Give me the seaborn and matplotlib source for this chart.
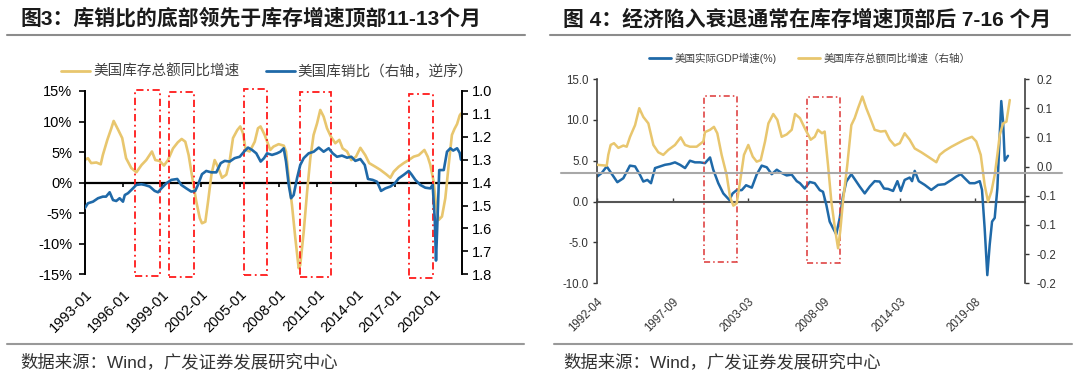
import numpy as np
import pandas as pd
import matplotlib
matplotlib.use("Agg")
import matplotlib.pyplot as plt
import seaborn as sns
from matplotlib.patches import Rectangle
from matplotlib.lines import Line2D

sns.set_style("white")
plt.rcParams["font.family"] = ["Liberation Sans", "Noto Sans CJK SC"]
plt.rcParams["axes.unicode_minus"] = False

# ---------------- texts ----------------
TITLE_L = "图3：库销比的底部领先于库存增速顶部11-13个月"
TITLE_R = "图 4：经济陷入衰退通常在库存增速顶部后 7-16 个月"
SOURCE = "数据来源：Wind，广发证券发展研究中心"
LEG_L = ["美国库存总额同比增速", "美国库销比（右轴，逆序）"]
LEG_R = ["美国实际GDP增速(%)", "美国库存总额同比增速（右轴）"]

# ---------------- left panel data ----------------
# 美国库存总额同比增速 (%), decimal year
L_inv_t = [1993.00, 1993.25, 1993.50, 1993.90, 1994.24, 1994.40, 1994.75, 1995.06, 1995.24, 1995.60,
           1995.90, 1996.20, 1996.60, 1997.00, 1997.40, 1997.76, 1998.20, 1998.46, 1998.80, 1999.13,
           1999.44, 1999.83, 2000.20, 2000.50, 2000.78, 2001.04, 2001.37, 2001.63, 2001.90, 2002.07,
           2002.33, 2002.54, 2002.80, 2003.05, 2003.30, 2003.62, 2003.95, 2004.20, 2004.47, 2004.80,
           2005.03, 2005.24, 2005.45, 2005.76, 2006.15, 2006.40, 2006.60, 2006.92, 2007.35, 2007.60,
           2008.00, 2008.40, 2008.57, 2008.78, 2009.03, 2009.29, 2009.55, 2009.67, 2009.94, 2010.20,
           2010.45, 2010.70, 2010.97, 2011.22, 2011.48, 2011.74, 2012.05, 2012.38, 2012.69, 2012.95,
           2013.29, 2013.62, 2013.98, 2014.32, 2014.70, 2015.00, 2015.48, 2015.86, 2016.30, 2016.64,
           2016.90, 2017.28, 2017.67, 2018.06, 2018.44, 2018.83, 2019.27, 2019.53, 2019.73, 2019.99,
           2020.17, 2020.38, 2020.63, 2020.89, 2021.15, 2021.40, 2021.60, 2021.80, 2022.00, 2022.10]
L_inv_v = [3.7, 4.0, 3.2, 3.3, 3.0, 4.5, 7.0, 8.9, 10.1, 8.6,
           7.3, 4.0, 2.4, 1.7, 2.9, 3.7, 5.1, 3.7, 3.55, 2.8,
           3.7, 5.6, 6.6, 7.15, 6.7, 4.5, 0.2, -3.1, -5.8, -6.65,
           -6.4, -3.1, 1.3, 3.7, 2.6, 0.8, 1.3, 3.4, 7.3, 8.6,
           9.2, 8.1, 5.35, 5.1, 6.7, 8.9, 9.2, 7.8, 5.35, 5.9,
           6.3, 6.05, 5.1, 0.7, -3.65, -9.1, -14.0, -13.5, -8.0, -1.5,
           4.0, 7.8, 9.7, 11.9, 10.8, 8.9, 7.5, 6.45, 7.0, 5.6,
           5.1, 3.7, 4.25, 5.7, 4.5, 3.2, 2.6, 2.1, 1.4, 0.8,
           1.8, 2.6, 3.2, 3.7, 4.25, 4.5, 5.35, 4.25, 2.9, 0.15,
           -3.65, -6.1, -5.55, -2.55, 2.9, 7.8, 8.8, 9.6, 11.0, 11.3]

# 美国库销比 (right axis, inverted)
L_isr_t = [1993.00, 1993.25, 1993.64, 1994.03, 1994.40, 1994.65, 1994.93, 1995.19, 1995.44, 1995.70,
           1995.96, 1996.10, 1996.35, 1996.73, 1996.99, 1997.38, 1997.64, 1998.03, 1998.41, 1998.67,
           1998.93, 1999.31, 1999.70, 2000.16, 2000.47, 2000.86, 2001.24, 2001.55, 2001.76, 2002.07,
           2002.40, 2002.79, 2003.18, 2003.52, 2003.83, 2004.21, 2004.60, 2004.99, 2005.32, 2005.63,
           2005.94, 2006.27, 2006.61, 2006.87, 2007.10, 2007.49, 2007.87, 2008.13, 2008.39, 2008.57,
           2008.78, 2008.96, 2009.16, 2009.42, 2009.67, 2009.94, 2010.32, 2010.71, 2011.10, 2011.48,
           2011.87, 2012.18, 2012.51, 2012.90, 2013.29, 2013.62, 2013.93, 2014.32, 2014.66, 2014.91,
           2015.27, 2015.61, 2015.92, 2016.25, 2016.64, 2016.98, 2017.29, 2017.67, 2018.06, 2018.26,
           2018.57, 2018.96, 2019.34, 2019.73, 2019.91, 2020.07, 2020.17, 2020.27, 2020.42, 2020.77,
           2021.02, 2021.28, 2021.50, 2021.80, 2022.00, 2022.10]
L_isr_v = [1.512, 1.490, 1.483, 1.468, 1.461, 1.461, 1.442, 1.476, 1.480, 1.468,
           1.483, 1.454, 1.446, 1.425, 1.410, 1.407, 1.410, 1.417, 1.436, 1.442,
           1.425, 1.403, 1.388, 1.384, 1.410, 1.425, 1.439, 1.436, 1.410, 1.363,
           1.349, 1.355, 1.355, 1.315, 1.305, 1.308, 1.293, 1.287, 1.265, 1.247,
           1.257, 1.272, 1.308, 1.293, 1.272, 1.279, 1.272, 1.265, 1.250, 1.308,
           1.410, 1.468, 1.454, 1.381, 1.323, 1.293, 1.272, 1.265, 1.247, 1.265,
           1.250, 1.272, 1.287, 1.282, 1.291, 1.287, 1.305, 1.297, 1.323, 1.384,
           1.388, 1.396, 1.436, 1.425, 1.417, 1.403, 1.381, 1.366, 1.349, 1.363,
           1.388, 1.410, 1.422, 1.425, 1.410, 1.555, 1.740, 1.585, 1.345, 1.345,
           1.265, 1.250, 1.260, 1.250, 1.270, 1.300]

L_xticks = [1993, 1996, 1999, 2002, 2005, 2008, 2011, 2014, 2017, 2020]
L_xlabels = ["1993-01", "1996-01", "1999-01", "2002-01", "2005-01",
             "2008-01", "2011-01", "2014-01", "2017-01", "2020-01"]
L_yticks = [-15, -10, -5, 0, 5, 10, 15]
L_y2ticks = [1.0, 1.1, 1.2, 1.3, 1.4, 1.5, 1.6, 1.7, 1.8]
# red dash-dot boxes: start, end (year), top, bottom (%)
L_box_start = [1996.91, 1999.52, 2005.30, 2009.63, 2018.06]
L_box_end = [1998.80, 2001.43, 2007.10, 2012.05, 2019.94]
L_box_top = [15.1, 14.9, 15.3, 14.8, 14.5]
L_box_bot = [-15.3, -15.5, -15.1, -15.5, -15.6]

# ---------------- right panel data ----------------
R_gdp_t = [1992.25, 1992.58, 1992.94, 1993.70, 1994.13, 1994.60, 1994.97, 1995.32, 1995.56, 1995.85,
           1996.11, 1996.40, 1996.76, 1997.11, 1997.47, 1997.83, 1998.19, 1998.55, 1998.90, 1999.26,
           1999.62, 1999.98, 2000.34, 2000.57, 2000.93, 2001.29, 2001.72, 2001.96, 2002.25, 2002.61,
           2002.92, 2003.33, 2003.68, 2004.04, 2004.40, 2004.76, 2005.12, 2005.47, 2005.83, 2006.19,
           2006.55, 2006.78, 2007.12, 2007.48, 2007.84, 2008.20, 2008.43, 2008.67, 2008.91, 2009.15,
           2009.38, 2009.63, 2009.86, 2010.10, 2010.46, 2010.74, 2011.06, 2011.42, 2011.78, 2012.13,
           2012.49, 2012.80, 2013.09, 2013.45, 2013.76, 2014.00, 2014.28, 2014.64, 2014.81, 2015.00,
           2015.29, 2015.72, 2016.19, 2016.67, 2017.15, 2017.63, 2017.98, 2018.30, 2018.58, 2018.94,
           2019.30, 2019.66, 2019.82, 2020.01, 2020.20, 2020.37, 2020.54, 2020.73, 2020.92, 2021.09,
           2021.20, 2021.33, 2021.45, 2021.68]
R_gdp_v = [3.06, 3.5, 4.3, 2.37, 2.86, 4.4, 4.3, 3.27, 2.45, 2.65,
           2.25, 4.1, 4.3, 4.5, 4.6, 4.8, 4.5, 4.1, 5.0, 4.8,
           4.8, 4.7, 5.4, 3.9, 2.25, 1.0, 0.2, 1.0, 1.4, 1.4,
           2.0, 1.7, 3.3, 4.4, 4.2, 3.35, 3.9, 3.5, 3.2, 3.3,
           2.5, 2.25, 1.6, 2.4, 2.25, 1.4, 1.2, -0.4, -2.45, -3.26,
           -4.0, -2.0, 0.6, 2.45, 3.35, 2.65, 1.84, 1.0, 1.84, 2.5,
           2.45, 1.6, 1.55, 1.3, 2.5, 1.3, 2.65, 2.94, 2.5, 3.76,
           2.5, 2.04, 1.43, 2.04, 2.13, 2.65, 3.06, 3.35, 2.86, 2.25,
           2.25, 2.5, 1.43, -3.26, -9.0, -5.3, -2.45, -2.0, 1.6, 8.2,
           12.3, 9.8, 5.0, 5.6]

R_inv_t = [1992.25, 1992.94, 1993.05, 1993.22, 1993.46, 1993.77, 1994.13, 1994.37, 1994.61, 1994.97,
           1995.27, 1995.56, 1995.92, 1996.28, 1996.63, 1996.99, 1997.35, 1997.83, 1998.24, 1998.55,
           1998.90, 1999.38, 1999.86, 1999.98, 2000.34, 2000.62, 2000.86, 2001.17, 2001.53, 2001.77,
           2002.01, 2002.25, 2002.49, 2002.77, 2003.08, 2003.40, 2003.68, 2003.97, 2004.28, 2004.52,
           2004.87, 2005.16, 2005.47, 2005.83, 2006.19, 2006.43, 2006.78, 2007.12, 2007.55, 2007.84,
           2008.07, 2008.36, 2008.55, 2008.79, 2009.03, 2009.31, 2009.51, 2009.67, 2009.86, 2010.17,
           2010.46, 2010.70, 2010.94, 2011.25, 2011.53, 2011.78, 2012.13, 2012.56, 2012.90, 2013.21,
           2013.57, 2013.93, 2014.28, 2014.64, 2015.00, 2015.47, 2015.95, 2016.55, 2016.79, 2017.15,
           2017.63, 2018.10, 2018.58, 2019.10, 2019.41, 2019.73, 2020.01, 2020.25, 2020.49, 2020.73,
           2020.92, 2021.09, 2021.33, 2021.57, 2021.81]
R_inv_v = [0.003, 0.0015, 0.02, 0.037, 0.04, 0.032, 0.036, 0.034, 0.051, 0.071,
           0.10, 0.085, 0.074, 0.037, 0.0245, 0.02, 0.0285, 0.037, 0.05, 0.037,
           0.034, 0.034, 0.043, 0.059, 0.063, 0.068, 0.057, 0.02, -0.0144, -0.052,
           -0.067, -0.063, -0.026, 0.02, 0.037, 0.017, 0.0084, 0.011, 0.043, 0.074,
           0.09, 0.08, 0.051, 0.055, 0.063, 0.09, 0.083, 0.066, 0.046, 0.051,
           0.063, 0.057, 0.06, 0.0027, -0.06, -0.11, -0.14, -0.11, -0.06, 0.0027,
           0.071, 0.083, 0.10, 0.12, 0.10, 0.085, 0.063, 0.06, 0.061, 0.046,
           0.036, 0.04, 0.057, 0.046, 0.031, 0.0245, 0.017, 0.0074, 0.02, 0.027,
           0.034, 0.04, 0.046, 0.051, 0.043, 0.02, -0.0315, -0.06, -0.043, -0.0144,
           0.02, 0.054, 0.074, 0.077, 0.114]

R_xticks = [1992.25, 1997.67, 2003.08, 2008.50, 2013.92, 2019.33]
R_xlabels = ["1992-04", "1997-09", "2003-03", "2008-09", "2014-03", "2019-08"]
R_yticks = [-10, -5, 0, 5, 10, 15]
R_y2ticks = [-0.2, -0.15, -0.1, -0.05, 0.0, 0.05, 0.1, 0.15]
R_y2labels = ["-0.2", "-0.2", "-0.1", "-0.1", "0.0", "0.1", "0.1", "0.2"]
R_box_start = [1999.91, 2007.29]
R_box_end = [2002.25, 2009.63]
R_box_top = [12.97, 12.85]
R_box_bot = [-7.34, -7.54]

# ---------------- styling ----------------
YELLOW = "#E8C66E"
BLUE = "#1F69A8"
RED_L = "#FF1A1A"
RED_R = "#DD3535"

W, H = 1080, 378


def fx(px):
    return px / W


def fy(py):
    return 1 - py / H


fig = plt.figure(figsize=(10.8, 3.78), dpi=100)
fig.patch.set_facecolor("white")

# ================= LEFT PANEL =================
axL = fig.add_axes([fx(84.7), fy(274.3), (462 - 84.7) / W, (274.3 - 91) / H])
axL2 = axL.twinx()

df_li = pd.DataFrame({"t": L_inv_t, "v": L_inv_v})
df_lr = pd.DataFrame({"t": L_isr_t, "v": L_isr_v})
sns.lineplot(data=df_li, x="t", y="v", ax=axL, color=YELLOW, lw=1.9,
             estimator=None, sort=False, legend=False)
sns.lineplot(data=df_lr, x="t", y="v", ax=axL2, color=BLUE, lw=1.9,
             estimator=None, sort=False, legend=False)

axL.set_xlim(1993.0, 2022.18)
axL.set_ylim(-15, 15)
axL2.set_ylim(1.8, 1.0)
for a in (axL, axL2):
    a.set_xlabel("")
    a.set_ylabel("")
    a.set_facecolor("none")
    for s in a.spines.values():
        s.set_visible(False)
axL.spines["left"].set_visible(True)
axL.spines["left"].set_color("black")
axL.spines["left"].set_linewidth(1.4)
axL2.spines["right"].set_visible(True)
axL2.spines["right"].set_color("black")
axL2.spines["right"].set_linewidth(1.4)

axL.set_yticks(L_yticks, [f"{v}%" for v in L_yticks])
axL.tick_params(axis="y", direction="out", length=4, width=1.2, colors="black",
                labelsize=10.5, pad=5, left=True)
axL2.set_yticks(L_y2ticks, [f"{v:.1f}" for v in L_y2ticks])
axL2.tick_params(axis="y", direction="out", length=4, width=1.2, colors="black",
                 labelsize=10.5, pad=3, right=True)
axL.set_xticks(L_xticks, L_xlabels, rotation=45, ha="right", va="top",
               rotation_mode="anchor")
axL.tick_params(axis="x", length=0, pad=9, labelsize=10.5, colors="black", bottom=True)
axL2.tick_params(axis="x", length=0, labelbottom=False)

secL = axL.secondary_xaxis(0.5)
secL.set_xticks(L_xticks)
secL.tick_params(axis="x", direction="in", length=3, width=1.2, color="black",
                 labeltop=False, labelbottom=False)
for s in secL.spines.values():
    s.set_color("black")
    s.set_linewidth(1.6)

for x0, x1, top, bot in zip(L_box_start, L_box_end, L_box_top, L_box_bot):
    axL.add_patch(Rectangle((x0, bot), x1 - x0, top - bot, fill=False,
                            edgecolor=RED_L, lw=1.3, ls=(0, (4, 2, 1, 2)),
                            clip_on=False, zorder=5))

fig.legend([Line2D([], [], color=YELLOW, lw=2), Line2D([], [], color=BLUE, lw=2)],
           LEG_L, loc="center", bbox_to_anchor=(fx(267), fy(71.6)), ncol=2,
           frameon=False, fontsize=10.5, handlelength=2.0, handletextpad=0.2,
           columnspacing=1.8, labelcolor="#404040")

# ================= RIGHT PANEL =================
axR = fig.add_axes([fx(597.1), fy(283.3), (1025 - 597.1) / W, (283.3 - 79) / H])
axR2 = axR.twinx()

df_rg = pd.DataFrame({"t": R_gdp_t, "v": R_gdp_v})
df_ri = pd.DataFrame({"t": R_inv_t, "v": R_inv_v})
sns.lineplot(data=df_rg, x="t", y="v", ax=axR, color=BLUE, lw=1.8,
             estimator=None, sort=False, legend=False)
sns.lineplot(data=df_ri, x="t", y="v", ax=axR2, color=YELLOW, lw=1.8,
             estimator=None, sort=False, legend=False)

axR.set_xlim(1992.25, 2022.9)
axR.set_ylim(-10, 15)
axR2.set_ylim(-0.2, 0.15)
for a in (axR, axR2):
    a.set_xlabel("")
    a.set_ylabel("")
    a.set_facecolor("none")
    for s in a.spines.values():
        s.set_visible(False)
axR.spines["left"].set_visible(True)
axR.spines["left"].set_color("#404040")
axR.spines["left"].set_linewidth(1.2)
axR2.spines["right"].set_visible(True)
axR2.spines["right"].set_color("#404040")
axR2.spines["right"].set_linewidth(1.2)

axR.set_yticks(R_yticks, [f"{v:.1f}" for v in R_yticks])
axR.tick_params(axis="y", direction="out", length=3, width=1.0, colors="#333333",
                labelsize=8.3, pad=3, left=True)
axR2.set_yticks(R_y2ticks, R_y2labels)
axR2.tick_params(axis="y", direction="out", length=3, width=1.0, colors="#333333",
                 labelsize=8.3, pad=5, right=True)
axR.set_xticks(R_xticks, R_xlabels, rotation=45, ha="right", va="top",
               rotation_mode="anchor")
axR.tick_params(axis="x", length=0, pad=9, labelsize=8.3, colors="#333333", bottom=True)
axR2.tick_params(axis="x", length=0, labelbottom=False)

secR = axR.secondary_xaxis(0.4)
secR.set_xticks(R_xticks)
secR.tick_params(axis="x", direction="in", length=3, width=1.0, color="#404040",
                 labeltop=False, labelbottom=False)
for s in secR.spines.values():
    s.set_color("#555555")
    s.set_linewidth(1.5)

for x0, x1, top, bot in zip(R_box_start, R_box_end, R_box_top, R_box_bot):
    axR.add_patch(Rectangle((x0, bot), x1 - x0, top - bot, fill=False,
                            edgecolor=RED_R, lw=1.1, ls=(0, (4, 2, 1, 2)),
                            clip_on=False, zorder=5))

fig.legend([Line2D([], [], color=BLUE, lw=2), Line2D([], [], color=YELLOW, lw=2)],
           LEG_R, loc="center", bbox_to_anchor=(fx(810), fy(58)), ncol=2,
           frameon=False, fontsize=7.6, handlelength=2.1, handletextpad=0.35,
           columnspacing=2.0, labelcolor="#404040")

# stray gray horizontal rule across right chart
fig.add_artist(Line2D([fx(561), fx(1062)], [fy(172.7), fy(172.7)],
                      color="#a8a8a8", lw=1.5))

# ================= titles & footers =================
fig.text(fx(20), fy(18), TITLE_L, fontsize=15, fontweight="bold",
         ha="left", va="center", color="#1a1a1a")
fig.text(fx(563), fy(19), TITLE_R, fontsize=15, fontweight="bold",
         ha="left", va="center", color="#1a1a1a")
fig.add_artist(Line2D([fx(7), fx(525)], [fy(34.5), fy(34.5)], color="#8c8c8c", lw=1.5))
fig.add_artist(Line2D([fx(550), fx(1070)], [fy(34.5), fy(34.5)], color="#8c8c8c", lw=1.5))

fig.add_artist(Line2D([fx(7), fx(524)], [fy(344), fy(344)], color="#999999", lw=1.5))
fig.add_artist(Line2D([fx(554), fx(1072)], [fy(344), fy(344)], color="#999999", lw=1.5))
fig.text(fx(20), fy(361.7), SOURCE, fontsize=12.5, ha="left", va="center", color="#333333")
fig.text(fx(563), fy(361.7), SOURCE, fontsize=12.5, ha="left", va="center", color="#333333")

fig.savefig("out.png", dpi=100, facecolor="white")
